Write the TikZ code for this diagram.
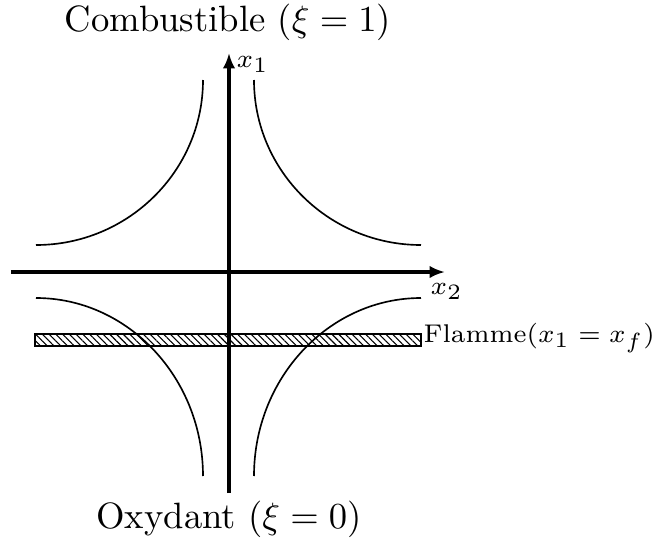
\documentclass[tikz,border=0pt]{standalone}
\usetikzlibrary{arrows.meta,patterns.meta}
\DeclareMathSizes{7}{7}{6}{5}
\begin{document}
\begin{tikzpicture}[x=0.273pt,y=-0.273pt,
  axis/.style={line width=0.9pt,-{Latex[length=4.2pt,width=3.4pt]}},
  curve/.style={line width=0.45pt},
  band/.style={line width=0.3pt,pattern={Lines[angle=-45,distance=1.3pt,line width=0.3pt]}},
  lbl/.style={inner sep=0pt},
  small lbl/.style={inner sep=0pt,font=\scriptsize}]
\useasboundingbox (0,0) rectangle (667,541);
% axes
\coordinate (xs) at (11,272);
\coordinate (xe) at (445,272);
\coordinate (ys) at (229,493);
\coordinate (ye) at (229,53);
\draw[axis] (xs) -- (xe);
\draw[axis] (ys) -- (ye);
% curves
\coordinate (trA) at (254,80);  \coordinate (trB) at (421,245);
\coordinate (tlA) at (203,80);  \coordinate (tlB) at (36,245);
\coordinate (blA) at (36,298);  \coordinate (blB) at (203,476);
\coordinate (brA) at (421,298); \coordinate (brB) at (254,476);
\draw[curve] (trA) .. controls (254,171) and (329,245) .. (trB);
\draw[curve] (tlA) .. controls (203,171) and (128,245) .. (tlB);
\draw[curve] (blA) .. controls (128,298) and (203,378) .. (blB);
\draw[curve] (brA) .. controls (329,298) and (254,378) .. (brB);
% flame band
\coordinate (fl) at (35,334);
\coordinate (fr) at (421,346);
\draw[band] (fl) rectangle (fr);
\node[small lbl,anchor=base west] (flame) at (423,342) {Flamme$(x_1 = x_f)$};
% labels
\node[lbl] (fuel) at (228,22) {Combustible ($\xi = 1$)};
\node[lbl] (oxid) at (229,519) {Oxydant ($\xi = 0$)};
\node[small lbl,anchor=base west] (x1) at (236,67) {$x_1$};
\node[small lbl,anchor=base west] (x2) at (430,294) {$x_2$};
\end{tikzpicture}
\end{document}
